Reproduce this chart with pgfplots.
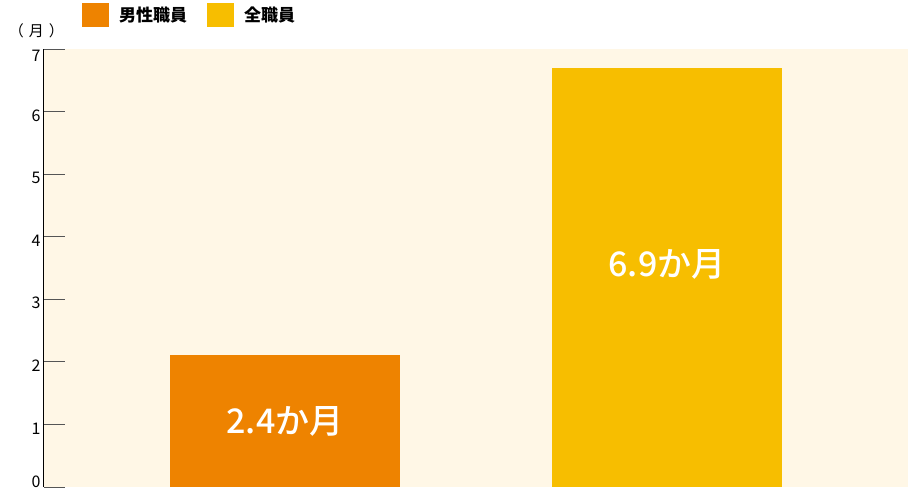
\documentclass[border=0pt]{standalone}
\usepackage{pgfplots}
\pgfplotsset{compat=1.18}
\usepackage{fontspec}
\setmainfont{Noto Sans CJK JP}
\newfontfamily\medfont{Noto Sans CJK JP Medium}
\definecolor{maleorange}{HTML}{EE8300}
\definecolor{allyellow}{HTML}{F7BE00}
\definecolor{panelbg}{HTML}{FFF7E6}
\definecolor{tickgray}{HTML}{555555}

\begin{document}
\begin{tikzpicture}
\begin{axis}[
    name=ax,
    scale only axis,
    width=864pt, height=438pt,
    xmin=0.369, xmax=2.631,
    ymin=0, ymax=7,
    ytick={0,...,7},
    yticklabels={\raisebox{9.5pt}[\height][\depth]{0},1,2,3,4,5,6,\raisebox{-2.6pt}[\height][\depth]{7}},
    axis x line=none,
    axis y line*=left,
    y axis line style={black, line width=1pt},
    major tick length=21pt,
    ytick style={tickgray, line width=0.9pt},
    tick align=inside,
    yticklabel style={font=\fontsize{16}{18}\selectfont, xshift=0pt, yshift=-4pt},
    axis background/.style={fill=panelbg},
    ybar, bar width=230pt, bar shift=0pt,
    clip=false,
    legend columns=2,
    legend style={at={(0,1)}, anchor=south west, xshift=38pt, yshift=22pt,
        draw=none, fill=none, inner sep=0pt,
        font=\fontsize{17}{19}\selectfont\bfseries,
        /tikz/every odd column/.append style={column sep=8pt},
        /tikz/every even column/.append style={column sep=18pt}},
    legend image code/.code={\fill[#1, draw=none] (0pt,-12pt) rectangle (27pt,12pt);},
]
\addplot[fill=maleorange, draw=none] coordinates {(1,2.11)};
\addlegendentry{男性職員}
\addplot[fill=allyellow, draw=none] coordinates {(2,6.70)};
\addlegendentry{全職員}
\node[text=white, font=\fontsize{34}{36}\medfont] at (axis cs:1,1.05) {2.4か月};
\node[text=white, font=\fontsize{34}{36}\medfont] at (axis cs:2,3.56) {6.9か月};
\node[font=\fontsize{15}{17}\selectfont, anchor=center] at ([xshift=-7.5pt, yshift=18pt]rel axis cs:0,1) {（\hspace{5pt}月\hspace{5pt}）};
\coordinate (bl) at (rel axis cs:0,0);
\coordinate (tr) at (rel axis cs:1,1);
\end{axis}
\pgfresetboundingbox
\path ([xshift=-44pt, yshift=-1pt]bl) rectangle ([yshift=49pt]tr);
\end{tikzpicture}
\end{document}
